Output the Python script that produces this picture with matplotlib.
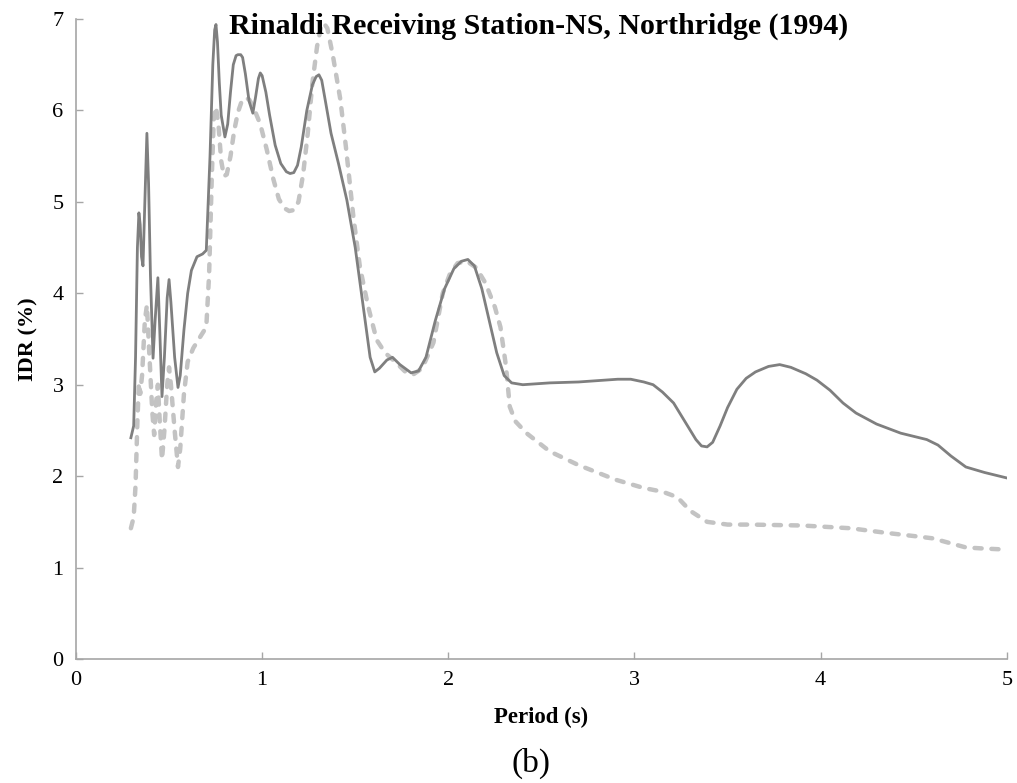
import matplotlib
matplotlib.use("Agg")
import matplotlib.pyplot as plt

# solid series (period in s, IDR in %)
period_a = [0.295, 0.31, 0.32, 0.33, 0.338, 0.345, 0.352, 0.36, 0.37, 0.381, 0.39, 0.40, 0.414, 0.425, 0.44,
            0.45, 0.462, 0.475, 0.49, 0.50, 0.51, 0.53, 0.548, 0.56, 0.58, 0.60, 0.62, 0.65, 0.68, 0.70,
            0.72, 0.735, 0.745, 0.752, 0.76, 0.77, 0.78, 0.80, 0.815, 0.83, 0.845, 0.86, 0.87, 0.885,
            0.895, 0.91, 0.93, 0.95, 0.965, 0.98, 0.99, 1.0, 1.02, 1.04, 1.07, 1.10, 1.13, 1.15, 1.17,
            1.19, 1.21, 1.24, 1.27, 1.29, 1.305, 1.32, 1.34, 1.37, 1.41, 1.455, 1.50, 1.54, 1.58,
            1.605, 1.63, 1.67, 1.70, 1.74, 1.80, 1.84, 1.88, 1.93, 1.98, 2.03, 2.07, 2.105, 2.14, 2.18,
            2.22, 2.26, 2.30, 2.34, 2.40, 2.545, 2.70, 2.91, 2.98, 3.05, 3.10, 3.15, 3.21, 3.27, 3.33,
            3.36, 3.39, 3.42, 3.46, 3.50, 3.55, 3.60, 3.65, 3.72, 3.78, 3.84, 3.92, 3.98, 4.05, 4.12,
            4.19, 4.30, 4.43, 4.57, 4.63, 4.70, 4.78, 4.88, 5.0]
idr_a = [2.42, 2.55, 3.3, 4.5, 4.88, 4.75, 4.4, 4.3, 5.0, 5.75, 5.2, 4.2, 3.29, 3.7, 4.17,
         3.6, 2.87, 3.3, 3.95, 4.15, 3.9, 3.3, 2.97, 3.1, 3.6, 4.0, 4.25, 4.40, 4.43, 4.47,
         5.5, 6.5, 6.88, 6.94, 6.75, 6.3, 5.95, 5.71, 5.85, 6.2, 6.5, 6.6, 6.61, 6.61,
         6.58, 6.4, 6.1, 5.97, 6.15, 6.35, 6.41, 6.38, 6.2, 5.95, 5.62, 5.42, 5.33, 5.31, 5.32,
         5.4, 5.6, 6.0, 6.28, 6.37, 6.39, 6.33, 6.1, 5.75, 5.42, 5.02, 4.5, 3.9, 3.3,
         3.14, 3.18, 3.27, 3.30, 3.22, 3.13, 3.15, 3.3, 3.7, 4.05, 4.27, 4.35, 4.37, 4.3, 4.05,
         3.7, 3.35, 3.1, 3.02, 3.0, 3.02, 3.03, 3.06, 3.06, 3.03, 3.0, 2.92, 2.80, 2.6, 2.40,
         2.33, 2.32, 2.37, 2.55, 2.75, 2.95, 3.07, 3.14, 3.20, 3.22, 3.19, 3.12, 3.05, 2.94, 2.80,
         2.69, 2.57, 2.47, 2.40, 2.34, 2.22, 2.10, 2.04, 1.98]

# dashed series
period_b = [0.295, 0.31, 0.32, 0.33, 0.338, 0.345, 0.355, 0.37, 0.381, 0.39, 0.40, 0.41, 0.42, 0.43, 0.44,
            0.45, 0.462, 0.475, 0.49, 0.50, 0.51, 0.53, 0.548, 0.56, 0.58, 0.60, 0.63, 0.66, 0.70, 0.715,
            0.73, 0.74, 0.752, 0.765, 0.78, 0.795, 0.81, 0.83, 0.85, 0.87, 0.89, 0.91, 0.93, 0.95, 0.99,
            1.025, 1.06, 1.09, 1.12, 1.145, 1.17, 1.195, 1.22, 1.245, 1.27, 1.295, 1.315, 1.33, 1.35,
            1.38, 1.42, 1.45, 1.49, 1.525, 1.57, 1.615, 1.66, 1.72, 1.77, 1.81, 1.86, 1.92, 1.97, 2.01,
            2.05, 2.10, 2.15, 2.2, 2.25, 2.28, 2.31, 2.33, 2.36, 2.42, 2.545, 2.70, 2.90, 3.05, 3.15,
            3.23, 3.30, 3.39, 3.50, 3.62, 3.90, 4.16, 4.35, 4.52, 4.60, 4.69, 4.78, 4.86, 4.96]
idr_b = [1.43, 1.55, 1.9, 2.6, 3.02, 2.9, 3.1, 3.7, 3.87, 3.5, 3.1, 2.7, 2.45, 2.8, 3.0,
         2.6, 2.18, 2.5, 3.0, 3.19, 3.0, 2.5, 2.1, 2.3, 2.9, 3.25, 3.4, 3.5, 3.63, 4.2,
         5.3, 5.9, 6.04, 5.85, 5.45, 5.28, 5.3, 5.5, 5.78, 5.98, 6.1, 6.14, 6.12, 6.05, 5.85,
         5.57, 5.25, 5.03, 4.93, 4.9, 4.91, 5.0, 5.3, 5.75, 6.3, 6.7, 6.9, 6.96, 6.9,
         6.6, 6.12, 5.6, 4.84, 4.29, 3.85, 3.49, 3.35, 3.24, 3.14, 3.11, 3.18, 3.46, 4.0, 4.22,
         4.33, 4.35, 4.28, 4.11, 3.85, 3.63, 3.2, 2.76, 2.6, 2.47, 2.27, 2.12, 1.96, 1.87, 1.83,
         1.77, 1.62, 1.50, 1.47, 1.47, 1.46, 1.43, 1.38, 1.34, 1.32, 1.27, 1.22, 1.21, 1.20]

x_ticks = [0, 1, 2, 3, 4, 5]
y_ticks = [0, 1, 2, 3, 4, 5, 6, 7]

plt.rcParams['font.family'] = ['Liberation Serif', 'DejaVu Serif']

fig = plt.figure(figsize=(10.17, 7.83), dpi=100)
ax = fig.add_axes([0.0747, 0.1584, 0.9153, 0.8173])

ax.plot(period_b, idr_b, color='#c3c3c3', lw=3.2, ls=(0, (1.6, 2.2)),
        dash_capstyle='round', solid_joinstyle='round')
ax.plot(period_a, idr_a, color='#7f7f7f', lw=2.0, solid_joinstyle='round')

ax.set_xlim(0, 5)
ax.set_ylim(0, 7)
ax.set_xticks(x_ticks)
ax.set_yticks(y_ticks)
for s in ['top', 'right']:
    ax.spines[s].set_visible(False)
for s in ['left', 'bottom']:
    ax.spines[s].set_color('#a6a6a6')
    ax.spines[s].set_linewidth(1.2)
ax.tick_params(direction='in', length=5, width=1, color='#a6a6a6', labelsize=16)
ax.tick_params(axis='x', pad=9)
ax.tick_params(axis='y', pad=9)

ax.set_xlabel('Period (s)', fontsize=16.5, fontweight='bold', labelpad=12)
ax.set_ylabel('IDR (%)', fontsize=16, fontweight='bold', labelpad=10)

fig.text(0.53, 0.966, 'Rinaldi Receiving Station-NS, Northridge (1994)', ha='center', va='center',
         fontsize=21.5, fontweight='bold')
fig.text(0.522, 0.025, '(b)', ha='center', va='center', fontsize=24)

fig.savefig('out.png', dpi=100)
